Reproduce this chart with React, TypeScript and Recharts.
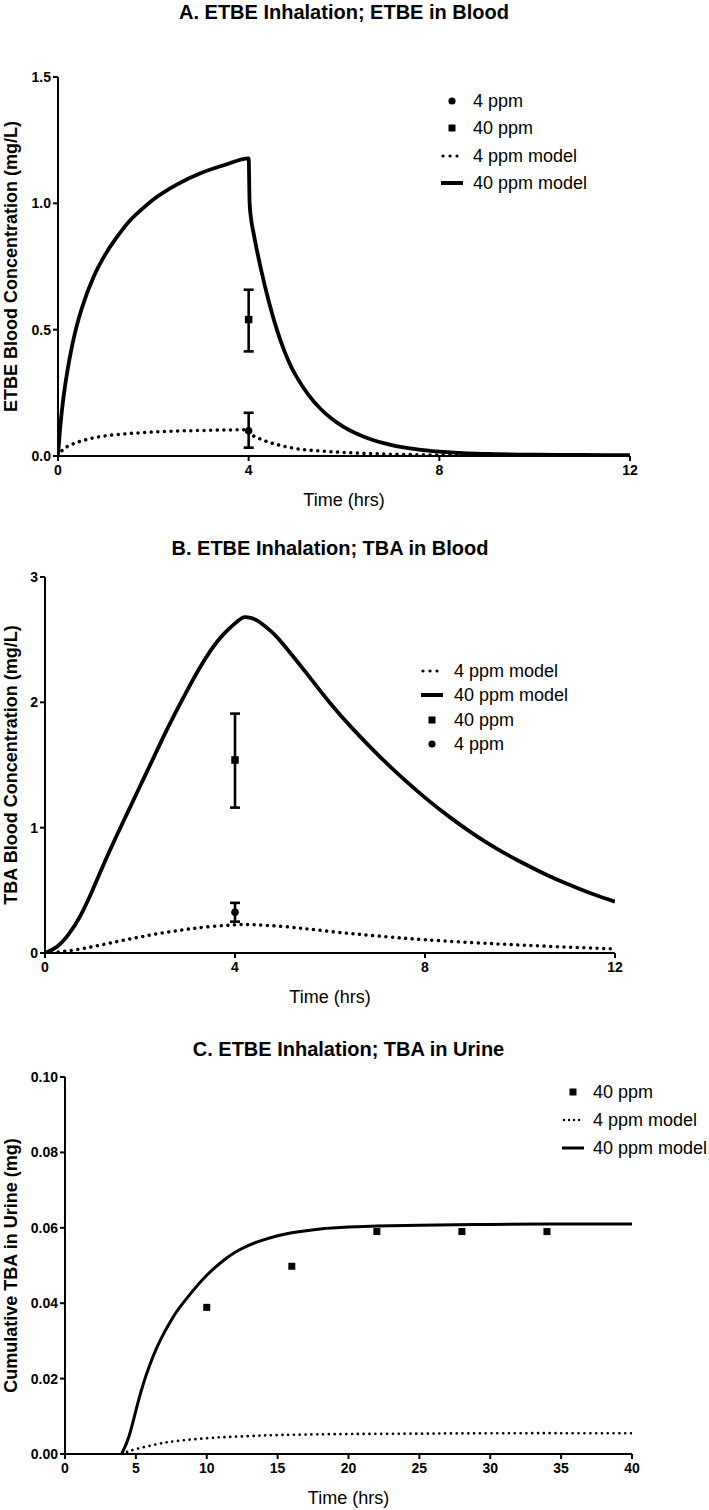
import React from 'react'
import { ComposedChart, Line, Scatter, ErrorBar, XAxis, YAxis } from 'recharts'

const FONT = '"Liberation Sans", Arial, Helvetica, sans-serif'

// ---- A. ETBE in blood ----
const aTicksX = [0, 4, 8, 12]
const aTicksY = [0, 0.5, 1.0, 1.5]
const a40ModelT = [0, 0.05, 0.1, 0.2, 0.3, 0.4, 0.5, 0.75, 1, 1.25, 1.5, 1.75, 2, 2.5, 3, 3.5, 4, 4.02, 4.05, 4.1, 4.2, 4.3, 4.4, 4.5, 4.6, 4.75, 4.9, 5, 5.25, 5.5, 5.75, 6, 6.5, 7, 7.5, 8, 8.5, 9, 10, 11, 12]
const a40ModelV = [0, 0.12, 0.21, 0.34, 0.44, 0.52, 0.585, 0.71, 0.8, 0.87, 0.93, 0.975, 1.015, 1.075, 1.12, 1.152, 1.178, 1.0, 0.94, 0.885, 0.79, 0.705, 0.628, 0.558, 0.495, 0.415, 0.35, 0.315, 0.243, 0.188, 0.146, 0.114, 0.07, 0.043, 0.027, 0.017, 0.011, 0.008, 0.005, 0.004, 0.003]
const a4ModelT = [0, 0.1, 0.25, 0.5, 0.75, 1, 1.5, 2, 2.5, 3, 3.5, 4, 4.05, 4.1, 4.2, 4.3, 4.4, 4.5, 4.75, 5, 5.5, 6, 6.5, 7, 8, 10, 12]
const a4ModelV = [0, 0.025, 0.042, 0.06, 0.072, 0.08, 0.089, 0.095, 0.099, 0.101, 0.103, 0.104, 0.088, 0.08, 0.071, 0.063, 0.056, 0.05, 0.038, 0.029, 0.02, 0.014, 0.01, 0.007, 0.004, 0.002, 0.001]
const aObsT = [4]
const a4Mean = [0.1]
const a4Low = [0.033]
const a4High = [0.171]
const a40Mean = [0.54]
const a40Low = [0.414]
const a40High = [0.658]

// ---- B. TBA in blood ----
const bTicksX = [0, 4, 8, 12]
const bTicksY = [0, 1, 2, 3]
const b40ModelT = [0, 0.25, 0.5, 0.75, 1, 1.25, 1.5, 1.75, 2, 2.25, 2.5, 2.75, 3, 3.25, 3.5, 3.75, 4, 4.1, 4.2, 4.35, 4.5, 4.75, 5, 5.5, 6, 6.5, 7, 7.5, 8, 8.5, 9, 9.5, 10, 10.5, 11, 11.5, 12]
const b40ModelV = [0, 0.05, 0.15, 0.3, 0.5, 0.72, 0.93, 1.13, 1.33, 1.53, 1.73, 1.92, 2.1, 2.27, 2.42, 2.54, 2.63, 2.66, 2.68, 2.672, 2.645, 2.57, 2.47, 2.235, 1.995, 1.78, 1.585, 1.405, 1.24, 1.09, 0.955, 0.835, 0.73, 0.635, 0.55, 0.475, 0.41]
const b4ModelT = [0, 0.5, 1, 1.5, 2, 2.5, 3, 3.5, 4, 4.25, 4.5, 5, 5.5, 6, 6.5, 7, 7.5, 8, 9, 10, 11, 12]
const b4ModelV = [0, 0.018, 0.05, 0.09, 0.128, 0.162, 0.19, 0.212, 0.225, 0.227, 0.224, 0.212, 0.193, 0.172, 0.153, 0.136, 0.12, 0.106, 0.083, 0.064, 0.047, 0.033]
const bObsT = [4]
const b40Mean = [1.54]
const b40Low = [1.16]
const b40High = [1.91]
const b4Mean = [0.325]
const b4Low = [0.25]
const b4High = [0.4]

// ---- C. TBA in urine ----
const cTicksX = [0, 5, 10, 15, 20, 25, 30, 35, 40]
const cTicksY = [0, 0.02, 0.04, 0.06, 0.08, 0.1]
const c40ModelT = [4, 4.5, 5, 5.5, 6, 6.5, 7, 7.5, 8, 9, 10, 11, 12, 13, 14, 15, 16, 18, 20, 22, 25, 30, 35, 40]
const c40ModelV = [0, 0.0045, 0.0115, 0.0183, 0.0238, 0.0284, 0.0322, 0.0355, 0.0384, 0.0432, 0.0474, 0.0508, 0.0535, 0.0554, 0.0568, 0.0579, 0.0587, 0.0597, 0.0602, 0.0605, 0.0607, 0.0609, 0.061, 0.061]
const c4ModelT = [4, 4.4, 5, 6, 7, 8, 10, 12, 14, 16, 20, 25, 30, 40]
const c4ModelV = [0, 0.0006, 0.0013, 0.0022, 0.003, 0.0035, 0.0042, 0.0046, 0.0049, 0.0051, 0.0053, 0.0054, 0.0055, 0.0055]
const cObsT = [10, 16, 22, 28, 34]
const c40Obs = [0.0389, 0.0498, 0.059, 0.059, 0.059]

const zip = (ts: number[], vs: number[]) => ts.map((t, i) => ({ t, v: vs[i] }))
const withErr = (ts: number[], m: number[], lo: number[], hi: number[]) =>
  ts.map((t, i) => ({ t, v: m[i], err: [m[i] - lo[i], hi[i] - m[i]] }))

type Kind = 'circle' | 'square' | 'dots' | 'line'

const squareShape = (s: number) => (p: any) =>
  <rect x={p.cx - s / 2} y={p.cy - s / 2} width={s} height={s} fill="#000" />
const circleShape = (r: number) => (p: any) =>
  <circle cx={p.cx} cy={p.cy} r={r} fill="#000" />

function LegendIcon({ kind, thin }: { kind: Kind; thin?: boolean }) {
  return (
    <svg width={26} height={14} style={{ display: 'block' }}>
      {kind === 'circle' && <circle cx={13} cy={7} r={3.6} fill="#000" />}
      {kind === 'square' && <rect x={9.5} y={3.5} width={7} height={7} fill="#000" />}
      {kind === 'dots' && (
        <line x1={4} y1={7} x2={22} y2={7} stroke="#000" strokeWidth={thin ? 2.4 : 3.2}
          strokeLinecap="round" strokeDasharray={thin ? '0.01 5' : '0.01 7'} />
      )}
      {kind === 'line' && <line x1={2} y1={7} x2={24} y2={7} stroke="#000" strokeWidth={thin ? 3 : 4} />}
    </svg>
  )
}

interface Props {
  top: number; height: number; plotLeft: number; plotRight: number
  title: string; titleY: number; yLabel: string
  xTicks: number[]; yTicks: number[]; yFmt: (v: number) => string
  solid: { t: number; v: number }[]; dotted: { t: number; v: number }[]
  curve: 'monotone' | 'natural'
  points: { data: any[]; kind: 'circle' | 'square'; err: boolean }[]
  legend: { label: string; kind: Kind }[]
  legendX: number; textX: number; legendY: number; legendGap: number
  thin?: boolean
}

function Panel(p: Props) {
  const axisStyle = { stroke: '#000', strokeWidth: 2 }
  const tickStyle = { fill: '#000', fontSize: 14, fontWeight: 700, fontFamily: FONT }
  const solidW = p.thin ? 3 : 3.8
  const dotW = p.thin ? 2.7 : 3.5
  return (
    <div style={{ position: 'absolute', left: 0, top: p.top, width: 709, height: p.height + 10 }}>
      <div style={{
        position: 'absolute', left: p.plotLeft, width: p.plotRight - p.plotLeft, top: p.titleY - 11,
        height: 22, lineHeight: '22px', textAlign: 'center', fontFamily: FONT, fontWeight: 700, fontSize: 20, color: '#000',
      }}>{p.title}</div>
      <ComposedChart width={709} height={p.height + 10} margin={{ top: 77, right: 709 - p.plotRight, left: 0, bottom: 10 }}>
        <XAxis
          type="number" dataKey="t" domain={[p.xTicks[0], p.xTicks[p.xTicks.length - 1]]} ticks={p.xTicks}
          allowDataOverflow height={50} axisLine={axisStyle} tickLine={axisStyle} tickSize={5} tickMargin={4}
          tick={tickStyle} interval={0}
          label={{ value: 'Time (hrs)', position: 'insideBottom', offset: 0, fill: '#000', fontSize: 18, fontFamily: FONT }}
        />
        <YAxis
          type="number" domain={[p.yTicks[0], p.yTicks[p.yTicks.length - 1]]} ticks={p.yTicks}
          allowDataOverflow width={p.plotLeft} axisLine={axisStyle} tickLine={axisStyle} tickSize={5} tickMargin={2}
          tick={tickStyle} tickFormatter={p.yFmt} interval={0}
          label={{
            value: p.yLabel, angle: -90, position: 'insideLeft', offset: 11, fill: '#000',
            fontSize: 18, fontWeight: 700, fontFamily: FONT, style: { textAnchor: 'middle' },
          }}
        />
        <Line data={p.dotted} dataKey="v" type={p.curve} stroke="#000" strokeWidth={dotW}
          strokeLinecap="round" strokeDasharray={p.thin ? '0.01 5.8' : '0.01 6.6'}
          dot={false} activeDot={false} isAnimationActive={false} />
        <Line data={p.solid} dataKey="v" type={p.curve} stroke="#000" strokeWidth={solidW}
          strokeLinejoin="round" dot={false} activeDot={false} isAnimationActive={false} />
        {p.points.map((s, i) => (
          <Scatter key={i} data={s.data} dataKey="v" isAnimationActive={false}
            shape={s.kind === 'square' ? squareShape(p.thin ? 7 : 7.5) : circleShape(3.8)}>
            {s.err && <ErrorBar dataKey="err" direction="y" width={5} strokeWidth={2.6} stroke="#000" />}
          </Scatter>
        ))}
      </ComposedChart>
      {p.legend.map((it, i) => {
        const cy = p.legendY + i * p.legendGap
        return (
          <React.Fragment key={it.label}>
            <div style={{ position: 'absolute', left: p.legendX - 13, top: cy - 7 }}>
              <LegendIcon kind={it.kind} thin={p.thin} />
            </div>
            <div style={{
              position: 'absolute', left: p.textX, top: cy - 11, height: 22, lineHeight: '22px',
              fontFamily: FONT, fontSize: 18, color: '#000', whiteSpace: 'nowrap',
            }}>{it.label}</div>
          </React.Fragment>
        )
      })}
    </div>
  )
}

export default function App() {
  return (
    <div style={{ position: 'absolute', left: 0, top: 0, width: 709, height: 1510, background: '#fff', overflow: 'hidden' }}>
      <Panel
        top={0} height={506} plotLeft={58} plotRight={630} curve="monotone"
        title="A. ETBE Inhalation; ETBE in Blood" titleY={12} yLabel="ETBE Blood Concentration (mg/L)"
        xTicks={aTicksX} yTicks={aTicksY} yFmt={(v) => v.toFixed(1)}
        solid={zip(a40ModelT, a40ModelV)} dotted={zip(a4ModelT, a4ModelV)}
        points={[
          { data: withErr(aObsT, a4Mean, a4Low, a4High), kind: 'circle', err: true },
          { data: withErr(aObsT, a40Mean, a40Low, a40High), kind: 'square', err: true },
        ]}
        legend={[
          { label: '4 ppm', kind: 'circle' },
          { label: '40 ppm', kind: 'square' },
          { label: '4 ppm model', kind: 'dots' },
          { label: '40 ppm model', kind: 'line' },
        ]}
        legendX={452} textX={473} legendY={101} legendGap={27.4}
      />
      <Panel
        top={500} height={503} plotLeft={45} plotRight={615} curve="natural"
        title="B. ETBE Inhalation; TBA in Blood" titleY={48} yLabel="TBA Blood Concentration (mg/L)"
        xTicks={bTicksX} yTicks={bTicksY} yFmt={(v) => String(v)}
        solid={zip(b40ModelT, b40ModelV)} dotted={zip(b4ModelT, b4ModelV)}
        points={[
          { data: withErr(bObsT, b40Mean, b40Low, b40High), kind: 'square', err: true },
          { data: withErr(bObsT, b4Mean, b4Low, b4High), kind: 'circle', err: true },
        ]}
        legend={[
          { label: '4 ppm model', kind: 'dots' },
          { label: '40 ppm model', kind: 'line' },
          { label: '40 ppm', kind: 'square' },
          { label: '4 ppm', kind: 'circle' },
        ]}
        legendX={432} textX={454} legendY={171} legendGap={24.4}
      />
      <Panel
        top={1000} height={504} plotLeft={65} plotRight={632} thin curve="natural"
        title="C. ETBE Inhalation; TBA in Urine" titleY={49} yLabel="Cumulative TBA in Urine (mg)"
        xTicks={cTicksX} yTicks={cTicksY} yFmt={(v) => v.toFixed(2)}
        solid={zip(c40ModelT, c40ModelV)} dotted={zip(c4ModelT, c4ModelV)}
        points={[
          { data: zip(cObsT, c40Obs), kind: 'square', err: false },
        ]}
        legend={[
          { label: '40 ppm', kind: 'square' },
          { label: '4 ppm model', kind: 'dots' },
          { label: '40 ppm model', kind: 'line' },
        ]}
        legendX={573} textX={593} legendY={92} legendGap={28}
      />
    </div>
  )
}
